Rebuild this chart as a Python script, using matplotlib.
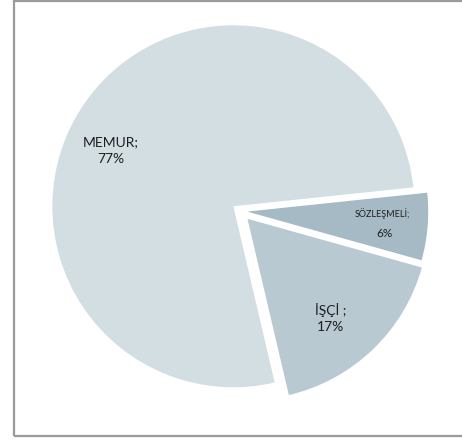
import numpy as np
import matplotlib
matplotlib.use("Agg")
from matplotlib import pyplot as plt

# ---------data---------
labels = ["MEMUR", "İŞÇİ ", "SÖZLEŞMELİ"]
shares = [77, 17, 6]
colors = ["#d3dee3", "#b8c9d2", "#a5bac5"]
explode = [0.045, 0.06, 0.04]

plt.rcParams['font.family'] = ['Lato', 'DejaVu Sans']

fig = plt.figure(figsize=(4.62, 4.41), dpi=100)
ax = fig.add_axes([0, 0, 1, 1])

# pie radius = 181 px, center at (240, 211) px from top-left
R = 181.0

texts = [lab + ";\n" + str(v) + "%" for lab, v in zip(labels, shares)]
wedges, lbls = ax.pie(shares, explode=explode, colors=colors, startangle=6,
                      labels=texts, labeldistance=0.76, radius=1.0,
                      wedgeprops=dict(linewidth=0),
                      textprops=dict(ha='center', va='center', color='#1e1e1e',
                                     fontsize=10, linespacing=1.45))
ax.set_xlim(-240 / R, (462 - 240) / R)
ax.set_ylim(-(441 - 211) / R, 211 / R)
ax.axis('off')

# MEMUR label sits a bit further round than the bisector
a = np.deg2rad(155)
lbls[0].set_position((0.79 * np.cos(a), 0.79 * np.sin(a)))
# İŞÇİ label a little to the left
x, y = lbls[1].get_position()
lbls[1].set_position((x - 0.065, y))

# SÖZLEŞMELİ: small name, bigger percent
x, y = lbls[2].get_position()
lbls[2].set_text(labels[2] + ";")
lbls[2].set_fontsize(6.5)
lbls[2].set_position((x - 0.01, y + 0.055))
ax.text(x, y - 0.055, str(shares[2]) + "%", ha='center', va='center',
        color='#1e1e1e', fontsize=8.5)

# ---------chart border---------
border = plt.Rectangle((14 / 462, 5 / 441), 1.0, 435 / 441, transform=fig.transFigure,
                       fill=False, edgecolor='#9a9a9a', linewidth=1.6, clip_on=False)
fig.patches.append(border)

fig.savefig("out.png", dpi=100)
